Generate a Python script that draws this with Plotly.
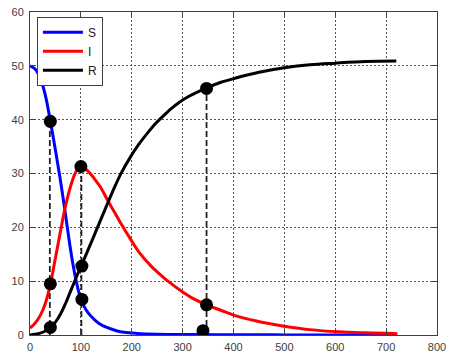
import plotly.graph_objects as go

# Susceptible / Infected / Recovered populations over time
t_S = [0, 10, 20, 30, 40, 47, 55, 61, 67, 73, 80, 86, 92, 100, 110, 120, 135, 151,
       170, 185, 210, 250, 300, 400, 500, 600, 720]
S = [50, 49.4, 47.7, 44.6, 39.7, 36.0, 31.5, 28.0, 24.2, 20.2, 15.7, 12.3, 9.5, 6.7,
     4.7, 3.5, 2.2, 1.4, 0.8, 0.5, 0.3, 0.15, 0.08, 0.04, 0.02, 0.01, 0.01]

t_I = [0, 10, 20, 30, 40, 47, 55, 61, 68, 75, 81, 88, 94, 100, 110, 120, 130, 139,
       151, 163, 177, 197, 215, 238, 255, 271, 303, 320, 347, 375, 400, 445, 477,
       509, 550, 606, 660, 722]
I = [1.3, 2.2, 3.6, 5.8, 9.4, 12.8, 16.8, 19.8, 23.2, 26.0, 28.0, 29.9, 30.9, 31.3,
     30.8, 29.8, 28.6, 27.4, 25.3, 23.3, 21.0, 17.9, 15.3, 12.8, 11.3, 10.0, 7.8,
     6.8, 5.6, 4.6, 3.7, 2.6, 2.0, 1.5, 1.0, 0.6, 0.4, 0.25]

t_R = [0, 10, 20, 30, 40, 50, 60, 70, 80, 90, 101, 110, 120, 135, 150, 165, 180,
       197, 213, 230, 245, 261, 277, 293, 310, 345, 374, 403, 450, 503, 550, 600,
       660, 720]
R = [0, 0.15, 0.35, 0.75, 1.4, 2.4, 3.9, 5.9, 8.2, 10.5, 12.9, 14.9, 17.1, 20.5, 23.9,
     27.2, 30.2, 33.0, 35.3, 37.4, 39.1, 40.6, 42.0, 43.2, 44.2, 45.8, 46.9, 47.7,
     48.8, 49.7, 50.2, 50.5, 50.8, 50.9]

# Sample times highlighted with dots and dashed guides
guide_t = [39, 101, 347]
mark_t_S = [40, 102, 340]
mark_S = [39.7, 6.6, 0.8]
mark_t_I = [40, 100, 347]
mark_I = [9.5, 31.3, 5.6]
mark_t_R = [40, 102, 347]
mark_R = [1.4, 12.8, 45.8]

x_ticks = [0, 100, 200, 300, 400, 500, 600, 700, 800]
y_ticks = [0, 10, 20, 30, 40, 50, 60]

fig = go.Figure()

# dashed vertical guides, from zero up to the highest dot at each time
for k, tg in enumerate(guide_t):
    top = max(mark_S[k], mark_I[k], mark_R[k])
    fig.add_trace(go.Scatter(x=[tg, tg], y=[0, top], mode="lines",
                             line=dict(color="#222222", width=1.8, dash="6px,3px"),
                             showlegend=False, hoverinfo="skip"))

fig.add_trace(go.Scatter(x=t_S, y=S, mode="lines", name="S",
                         line=dict(color="#0000ff", width=3, shape="spline", smoothing=1)))
fig.add_trace(go.Scatter(x=t_I, y=I, mode="lines", name="I",
                         line=dict(color="#ff0000", width=3, shape="spline", smoothing=1)))
fig.add_trace(go.Scatter(x=t_R, y=R, mode="lines", name="R",
                         line=dict(color="#000000", width=3, shape="spline", smoothing=1)))

dot = dict(color="#000000", size=13)
fig.add_trace(go.Scatter(x=mark_t_S, y=mark_S, mode="markers", marker=dot, showlegend=False))
fig.add_trace(go.Scatter(x=mark_t_I, y=mark_I, mode="markers", marker=dot, showlegend=False))
fig.add_trace(go.Scatter(x=mark_t_R, y=mark_R, mode="markers", marker=dot, showlegend=False))

axis_common = dict(
    showline=True, linecolor="#404040", linewidth=1, mirror="ticks",
    ticks="inside", ticklen=5, tickcolor="#404040",
    showgrid=True, gridcolor="#555555", gridwidth=1, griddash="2px,2px",
    zeroline=False, ticklabeloverflow="allow",
    tickfont=dict(family="Liberation Sans, Arial, sans-serif", size=11, color="#404040"),
)

fig.update_xaxes(range=[0, 800], tickvals=x_ticks, ticktext=[str(v) for v in x_ticks],
                 ticklabelstandoff=2, **axis_common)
fig.update_yaxes(range=[0, 60], tickvals=y_ticks, ticktext=[str(v) for v in y_ticks],
                 ticklabelstandoff=3, **axis_common)

fig.update_layout(
    width=452, height=359,
    margin=dict(l=30, r=6, t=12, b=21),
    paper_bgcolor="white", plot_bgcolor="white",
    legend=dict(x=0.017, y=0.985, xanchor="left", yanchor="top",
                bgcolor="white", bordercolor="#404040", borderwidth=1,
                font=dict(family="Liberation Sans, Arial, sans-serif", size=12, color="#202020"),
                itemwidth=40, tracegroupgap=0),
    showlegend=True,
)

fig.write_html("out.html")
